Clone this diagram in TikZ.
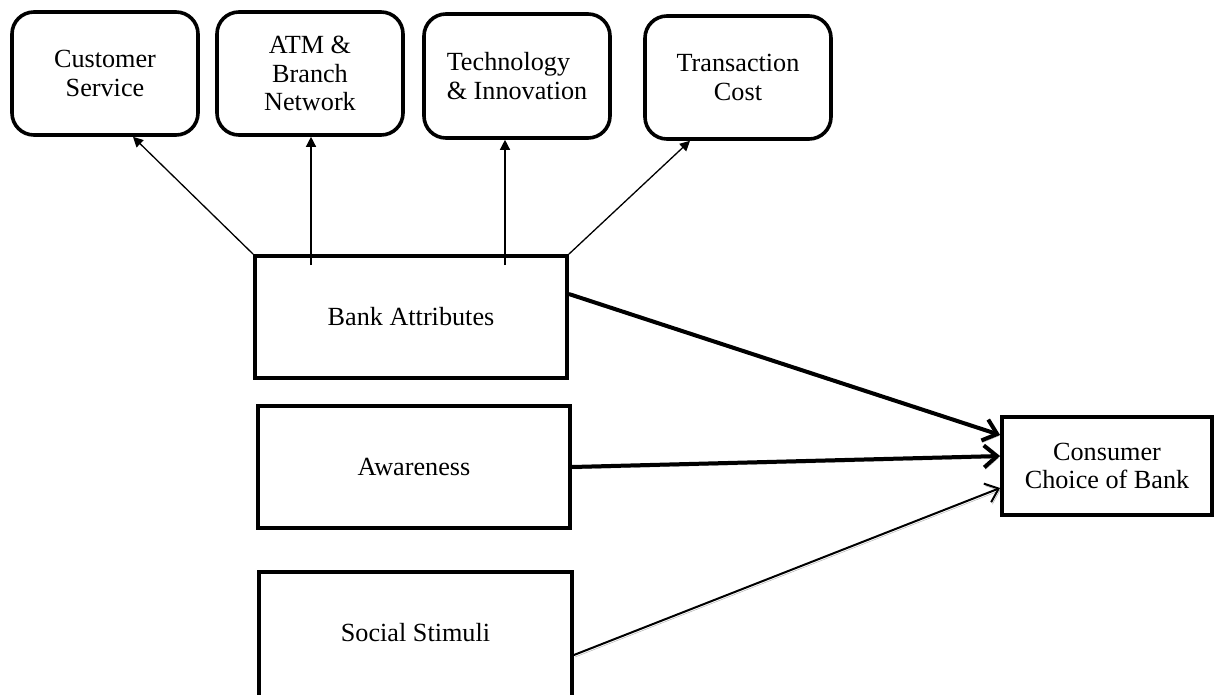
\documentclass[tikz,border=0pt]{standalone}
\usepackage{fontspec}
\setmainfont{Liberation Serif}
\usetikzlibrary{arrows.meta,calc}
\begin{document}
\begin{tikzpicture}[x=1pt,y=-1pt,
  txt/.style={font=\fontsize{26.2}{28.8}\selectfont, align=center, inner sep=0pt},
  rbox/.style={txt, draw, line width=3.6pt, rounded corners=22pt, minimum width=186pt, minimum height=123pt},
  sbox/.style={txt, draw, line width=3.8pt, minimum width=312pt, minimum height=122pt},
  thinarrow/.style={line width=1.3pt, -{Triangle[length=10pt,width=10pt]}},
  shadowed/.style={preaction={draw=black!35, transform canvas={shift={(1.2pt,-2pt)}}}},
  bigarrow/.style={line width=4pt, -{Straight Barb[length=13pt,width=22pt,line width=4pt]}, shadowed},
  midarrow/.style={line width=2pt, -{Straight Barb[length=12pt,width=20pt,line width=2pt]}, shadowed}
]
\useasboundingbox (0,0) rectangle (1215,694);
\fill[white] (0,0) rectangle (1215,694);

\node[rbox] (cs) at (105,73.5) {Customer\\Service};
\node[rbox] (atm) at (310,73.5) {ATM \&\\Branch\\Network};
\node[rbox, minimum height=124pt, align=left] (tech) at (517,76) {Technology\\\& Innovation};
\node[rbox] (tc) at (738,77.5) {Transaction\\Cost};

\node[sbox] (bank) at (411,317) {Bank Attributes};
\node[sbox] (aw) at (414,467) {Awareness};
\node[sbox, minimum width=313pt, minimum height=140pt, text height=18pt, text depth=20pt] (ss) at (415.5,642) {Social Stimuli};
\node[sbox, minimum width=210pt, minimum height=98pt] (cons) at (1107,466) {Consumer\\Choice of Bank};

\draw[thinarrow] (bank.north west) -- ([xshift=28pt]cs.south);
\draw[thinarrow] ($(atm.south |- bank.north)+(1pt,-11pt)$) -- ([xshift=1pt]atm.south);
\draw[thinarrow] ($([xshift=-12pt]tech.south |- bank.north)+(0pt,-11pt)$) -- ([xshift=-12pt]tech.south);
\draw[thinarrow] (bank.north east) -- ([xshift=-48pt]tc.south);

\draw[bigarrow] ([yshift=23pt]bank.east) -- ([yshift=31pt]cons.west);
\draw[bigarrow] (aw.east) -- ([yshift=10pt]cons.west);
\draw[midarrow] ([yshift=-13pt]ss.east) -- ([yshift=-22pt]cons.west);
\end{tikzpicture}
\end{document}
